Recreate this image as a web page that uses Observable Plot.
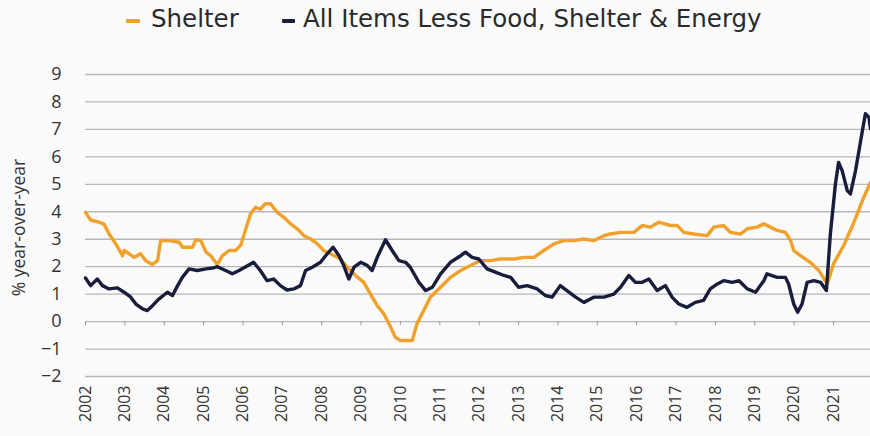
<!DOCTYPE html>
<html><head><meta charset="utf-8">
<script src="https://cdn.jsdelivr.net/npm/d3@7"></script>
<script src="https://cdn.jsdelivr.net/npm/@observablehq/plot@0.6"></script>
<style>
body{margin:0;background:#fafafa;font-family:"Open Sans",sans-serif;width:870px;height:436px;overflow:hidden}
#legend{height:40px;position:relative;font-family:"DejaVu Sans",sans-serif;font-size:24.5px;line-height:28px;color:#2a2a2a}
.item{position:absolute;top:5px;height:28px;white-space:nowrap}
.sw{position:absolute;top:14px;height:4px;border-radius:1px}
.lbl{position:absolute;top:0}
</style></head><body>
<div id="legend"></div><div id="chart"></div>
<script>
const seriesNames = ["Shelter", "All Items Less Food, Shelter & Energy"];
const seriesColors = ["#f0a12c", "#181d3b"];
const yearLabels = [2002,2003,2004,2005,2006,2007,2008,2009,2010,2011,2012,2013,2014,2015,2016,2017,2018,2019,2020,2021];
const yTicks = [-2,-1,0,1,2,3,4,5,6,7,8,9];

const shelterT = [2002.00,2002.13,2002.35,2002.47,2002.60,2002.77,2002.94,2002.98,2003.11,2003.24,2003.40,2003.53,2003.70,2003.83,2003.91,2004.12,2004.38,2004.46,2004.72,2004.80,2004.93,2005.06,2005.18,2005.35,2005.48,2005.65,2005.82,2005.95,2006.06,2006.19,2006.32,2006.44,2006.57,2006.70,2006.87,2007.04,2007.21,2007.38,2007.55,2007.72,2007.89,2008.05,2008.22,2008.48,2008.65,2008.86,2009.07,2009.24,2009.41,2009.58,2009.75,2009.87,2010.00,2010.30,2010.42,2010.59,2010.76,2011.02,2011.27,2011.53,2011.78,2012.03,2012.29,2012.54,2012.88,2013.13,2013.39,2013.64,2013.90,2014.15,2014.40,2014.66,2014.91,2015.17,2015.33,2015.59,2015.93,2016.14,2016.35,2016.56,2016.86,2017.03,2017.20,2017.45,2017.79,2017.96,2018.21,2018.38,2018.64,2018.81,2019.06,2019.23,2019.40,2019.57,2019.78,2019.91,2019.99,2020.16,2020.41,2020.63,2020.84,2021.00,2021.26,2021.52,2021.77,2021.94];
const shelterV = [3.98,3.70,3.62,3.55,3.19,2.83,2.40,2.59,2.47,2.34,2.47,2.22,2.08,2.22,2.95,2.95,2.89,2.71,2.71,2.98,2.95,2.53,2.40,2.08,2.40,2.59,2.59,2.80,3.32,3.92,4.16,4.10,4.29,4.29,3.98,3.80,3.56,3.38,3.13,3.01,2.83,2.59,2.47,2.28,1.98,1.68,1.43,1.00,0.58,0.28,-0.20,-0.57,-0.69,-0.69,-0.08,0.40,0.89,1.25,1.61,1.86,2.04,2.22,2.22,2.28,2.28,2.34,2.34,2.59,2.83,2.95,2.95,3.01,2.95,3.13,3.19,3.25,3.25,3.50,3.44,3.62,3.50,3.50,3.25,3.19,3.13,3.44,3.50,3.25,3.19,3.38,3.44,3.56,3.44,3.32,3.25,2.95,2.59,2.40,2.16,1.86,1.37,2.10,2.77,3.62,4.53,5.07];

const coreT = [2002.00,2002.13,2002.30,2002.43,2002.60,2002.81,2002.98,2003.15,2003.28,2003.45,2003.57,2003.70,2003.87,2004.08,2004.21,2004.34,2004.46,2004.63,2004.84,2005.06,2005.23,2005.35,2005.56,2005.73,2005.90,2006.07,2006.27,2006.44,2006.61,2006.78,2006.95,2007.12,2007.29,2007.46,2007.59,2007.76,2007.97,2008.14,2008.29,2008.44,2008.56,2008.69,2008.82,2008.99,2009.16,2009.28,2009.41,2009.62,2009.79,2009.96,2010.13,2010.25,2010.47,2010.64,2010.81,2011.02,2011.27,2011.53,2011.65,2011.82,2011.99,2012.20,2012.41,2012.63,2012.80,2013.00,2013.22,2013.47,2013.68,2013.85,2014.06,2014.28,2014.45,2014.66,2014.91,2015.17,2015.42,2015.59,2015.80,2015.97,2016.14,2016.31,2016.52,2016.73,2016.90,2017.07,2017.28,2017.49,2017.70,2017.87,2018.05,2018.21,2018.43,2018.60,2018.81,2019.02,2019.23,2019.31,2019.57,2019.78,2019.86,2019.99,2020.09,2020.20,2020.33,2020.50,2020.67,2020.82,2020.92,2021.05,2021.13,2021.22,2021.35,2021.43,2021.56,2021.69,2021.81,2021.90,2021.94];
const coreV = [1.59,1.31,1.55,1.31,1.19,1.23,1.07,0.89,0.64,0.46,0.40,0.58,0.83,1.07,0.95,1.31,1.61,1.92,1.86,1.92,1.95,2.00,1.86,1.74,1.86,2.00,2.16,1.86,1.49,1.55,1.31,1.15,1.19,1.31,1.86,1.98,2.16,2.47,2.71,2.40,2.04,1.55,1.98,2.16,2.04,1.86,2.34,2.98,2.59,2.22,2.16,1.98,1.43,1.13,1.25,1.74,2.16,2.40,2.53,2.34,2.28,1.92,1.80,1.68,1.61,1.25,1.31,1.19,0.95,0.89,1.31,1.07,0.89,0.70,0.89,0.89,1.00,1.25,1.68,1.43,1.43,1.55,1.13,1.31,0.89,0.64,0.52,0.70,0.77,1.19,1.37,1.49,1.43,1.49,1.19,1.07,1.49,1.74,1.61,1.61,1.37,0.64,0.34,0.64,1.43,1.49,1.43,1.13,3.19,5.02,5.80,5.50,4.77,4.65,5.50,6.59,7.57,7.44,7.02];

const shelter = shelterT.map((t, i) => ({t, v: shelterV[i]}));
const core = coreT.map((t, i) => ({t, v: coreV[i]}));

// legend
const legend = document.getElementById("legend");
const legendX = [126, 282];
const swatchW = [14, 13];
const textOffset = [25, 21];
seriesNames.forEach((name, i) => {
  const d = document.createElement("div");
  d.className = "item";
  d.style.left = legendX[i] + "px";
  d.innerHTML = `<span class="sw" style="left:0;width:${swatchW[i]}px;background:${seriesColors[i]}"></span><span class="lbl" style="left:${textOffset[i]}px">${name}</span>`;
  legend.appendChild(d);
});

const chart = Plot.plot({
  width: 870, height: 396,
  marginLeft: 85, marginRight: 0, marginTop: 34, marginBottom: 60,
  style: {background: "transparent", fontFamily: "Open Sans", color: "#333", overflow: "visible"},
  x: {type: "linear", domain: [2002, 2021.94]},
  y: {domain: [-2, 9]},
  marks: [
    Plot.gridY(yTicks, {stroke: "#9a9a9a", strokeOpacity: 0.7, strokeWidth: 1.3}),
    Plot.ruleX(yearLabels, {y1: 0, y2: -0.15, stroke: "#999", strokeWidth: 1}),
    Plot.axisY(yTicks, {tickSize: 0, tickPadding: 24, fontSize: 18, label: null}),
    Plot.axisX(yearLabels, {tickSize: 0, tickPadding: 9, tickRotate: -90, fontSize: 16, label: null, tickFormat: d => String(d)}),
    Plot.text(["% year-over-year"], {frameAnchor: "left", text: d => d, rotate: -90, textAnchor: "middle", dx: -66, dy: 2, fontSize: 17.5, fill: "#333"}),
    Plot.line(shelter, {x: "t", y: "v", stroke: seriesColors[0], strokeWidth: 3.4, curve: "linear"}),
    Plot.line(core, {x: "t", y: "v", stroke: seriesColors[1], strokeWidth: 3.4, curve: "linear"})
  ]
});
document.getElementById("chart").appendChild(chart);
</script>
</body></html>
